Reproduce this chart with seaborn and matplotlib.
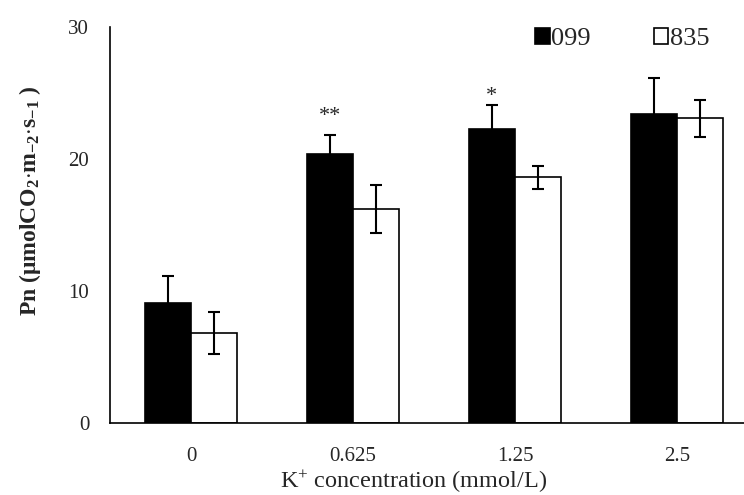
import matplotlib
matplotlib.use("Agg")
import matplotlib.pyplot as plt
import seaborn as sns
import pandas as pd
import numpy as np

categories = ["0", "0.625", "1.25", "2.5"]
series = ["099", "835"]
vals_099 = [9.1, 20.4, 22.3, 23.4]
err_099 = [2.0, 1.4, 1.8, 2.7]
vals_835 = [6.8, 16.2, 18.6, 23.1]
err_835 = [1.6, 1.8, 0.9, 1.4]
sig_marks = ["", "**", "*", ""]
sig_y = [None, 22.9, 24.4, None]

sns.set_style("white")
plt.rcParams["font.family"] = ["Liberation Serif", "DejaVu Serif"]
plt.rcParams["mathtext.fontset"] = "custom"
plt.rcParams["mathtext.rm"] = "Liberation Serif"
plt.rcParams["mathtext.it"] = "Liberation Serif:italic"
plt.rcParams["mathtext.bf"] = "Liberation Serif:bold"
plt.rcParams["mathtext.default"] = "regular"

df = pd.DataFrame({
    "cat": categories * 2,
    "series": [series[0]] * 4 + [series[1]] * 4,
    "val": vals_099 + vals_835,
})

fig = plt.figure(figsize=(7.44, 4.95), dpi=100)
ax = fig.add_axes([110/744, 72/495, 648/744, 396/495])

sns.barplot(data=df, x="cat", y="val", hue="series", order=categories,
            hue_order=series, palette={"099": "black", "835": "white"},
            width=0.57, gap=0, errorbar=None, edgecolor="black",
            linewidth=1.2, ax=ax, saturation=1)

errs = {"099": err_099, "835": err_835}
vals = {"099": vals_099, "835": vals_835}
for cont, s in zip(ax.containers, series):
    xs = [p.get_x() + p.get_width()/2 for p in cont.patches]
    ax.errorbar(xs, vals[s], yerr=errs[s], fmt="none", ecolor="black",
                elinewidth=1.5, capsize=4, capthick=1.5, zorder=5)

cont0 = ax.containers[0]
for i, m in enumerate(sig_marks):
    if m:
        p = cont0.patches[i]
        ax.text(p.get_x() + p.get_width()/2, sig_y[i], m,
                ha="center", va="baseline", fontsize=16)

ax.set_ylim(0, 30)
ax.set_xlim(-0.5, 3.5)
ax.set_yticks([0, 10, 20, 30])
ax.tick_params(axis="y", direction="in", length=5, width=1, labelsize=15, pad=15)
ax.set_xticks([0.5, 1.5, 2.5], minor=False)
ax.set_xticks(range(4), minor=True)
ax.set_xticklabels([], minor=False)
ax.set_xticklabels(categories, minor=True)
ax.tick_params(axis="x", which="major", direction="in", length=5, width=1, labelbottom=False)
ax.tick_params(axis="x", which="minor", length=0, labelsize=15, pad=17)
for side in ["top", "right"]:
    ax.spines[side].set_visible(False)
for side in ["left", "bottom"]:
    ax.spines[side].set_linewidth(1.2)
    ax.spines[side].set_color("black")

ax.set_xlabel("K$^{+}$ concentration (mmol/L)", fontsize=17.5, labelpad=2)
ax.xaxis.label.set_x(0.469)
ax.set_ylabel(r"$\mathbf{Pn\ (\mu molCO_{2}{\cdot}m_{-2}{\cdot}s_{-1}\ )}$", fontsize=17, labelpad=18)
ax.yaxis.label.set_y(0.56)

leg = ax.legend(loc="upper left", bbox_to_anchor=(535/744, 1 - 28/495),
                bbox_transform=fig.transFigure, ncol=2, frameon=False,
                fontsize=19, handlelength=0.55, handleheight=0.55,
                handletextpad=0.05, columnspacing=2.4, borderaxespad=0,
                borderpad=0)
for h in leg.legend_handles:
    h.set_edgecolor("black")
    h.set_linewidth(1.2)

fig.savefig("out.png", dpi=100)
